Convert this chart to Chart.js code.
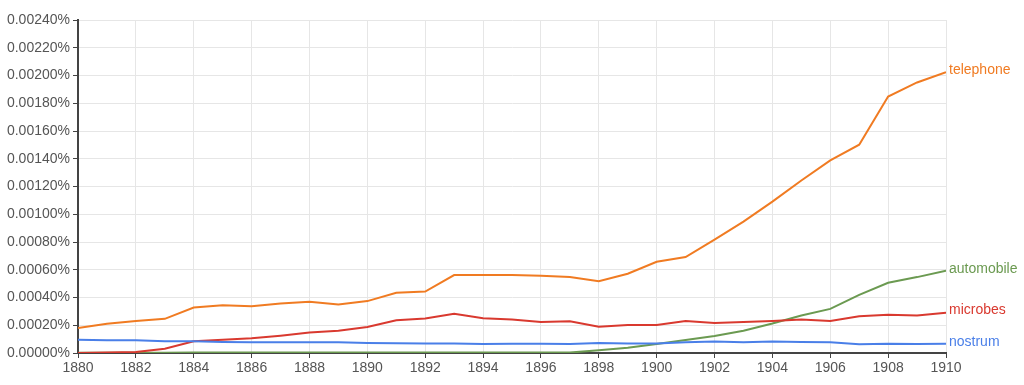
<!DOCTYPE html>
<html>
<head>
<meta charset="utf-8">
<script src="https://cdn.jsdelivr.net/npm/chart.js@4"></script>
<style>
  html, body { margin: 0; padding: 0; background: #fff; }
  #wrap { width: 1024px; height: 385px; }
</style>
</head>
<body>
<div id="wrap"><canvas id="ngram"></canvas></div>
<script>
// years 1880..1910
const years = [1880, 1881, 1882, 1883, 1884, 1885, 1886, 1887, 1888, 1889, 1890,
  1891, 1892, 1893, 1894, 1895, 1896, 1897, 1898, 1899, 1900,
  1901, 1902, 1903, 1904, 1905, 1906, 1907, 1908, 1909, 1910];

// values in percent
const telephone = [0.000180, 0.000210, 0.000231, 0.000246, 0.000328, 0.000345, 0.000337, 0.000357, 0.000369, 0.000349, 0.000374,
  0.000434, 0.000443, 0.000562, 0.000562, 0.000562, 0.000557, 0.000547, 0.000518, 0.000571, 0.000658,
  0.000692, 0.000817, 0.000947, 0.001091, 0.001243, 0.001388, 0.001501, 0.001848, 0.001950, 0.002024];
const automobile = [0.000002, 0.000002, 0.000002, 0.000002, 0.000003, 0.000003, 0.000003, 0.000003, 0.000003, 0.000003, 0.000003,
  0.000004, 0.000004, 0.000004, 0.000004, 0.000004, 0.000003, 0.000003, 0.000019, 0.000038, 0.000065,
  0.000094, 0.000123, 0.000161, 0.000212, 0.000270, 0.000318, 0.000419, 0.000506, 0.000547, 0.000593];
const microbes = [0.000000, 0.000004, 0.000007, 0.000031, 0.000084, 0.000096, 0.000106, 0.000125, 0.000147, 0.000161, 0.000188,
  0.000236, 0.000248, 0.000282, 0.000251, 0.000241, 0.000224, 0.000229, 0.000190, 0.000202, 0.000202,
  0.000231, 0.000217, 0.000224, 0.000231, 0.000241, 0.000231, 0.000265, 0.000275, 0.000270, 0.000291];
const nostrum = [0.000096, 0.000092, 0.000092, 0.000084, 0.000084, 0.000080, 0.000077, 0.000077, 0.000077, 0.000077, 0.000072,
  0.000070, 0.000069, 0.000068, 0.000065, 0.000066, 0.000066, 0.000065, 0.000072, 0.000069, 0.000069,
  0.000077, 0.000082, 0.000077, 0.000082, 0.000080, 0.000077, 0.000063, 0.000067, 0.000065, 0.000067];

const names = ['telephone', 'automobile', 'microbes', 'nostrum'];
const colors = ['#f07b22', '#6b9a51', '#d9392f', '#4a7fe8'];
const series = [telephone, automobile, microbes, nostrum];

const datasets = series.map((vals, i) => ({
  label: names[i],
  data: years.map((y, j) => ({ x: y, y: vals[j] })),
  borderColor: colors[i],
  borderWidth: 2,
  pointRadius: 0,
  tension: 0,
  fill: false
}));
// draw order: nostrum bottom, telephone top like reference
datasets.reverse();

// names next to the last point of each line
const endLabels = {
  id: 'endLabels',
  afterDatasetsDraw(chart) {
    const ctx = chart.ctx;
    ctx.save();
    ctx.font = '14px "Liberation Sans", Arial, sans-serif';
    ctx.textBaseline = 'middle';
    chart.data.datasets.forEach((ds, i) => {
      const meta = chart.getDatasetMeta(i);
      const last = meta.data[meta.data.length - 1];
      ctx.fillStyle = ds.borderColor;
      ctx.fillText(ds.label, last.x + 3, last.y - 2);
    });
    ctx.restore();
  }
};

new Chart(document.getElementById('ngram'), {
  type: 'line',
  data: { datasets: datasets },
  plugins: [endLabels],
  options: {
    responsive: true,
    maintainAspectRatio: false,
    animation: false,
    layout: { padding: { top: 20, right: 78, left: 0, bottom: 0 } },
    plugins: { legend: { display: false }, tooltip: { enabled: false } },
    scales: {
      x: {
        type: 'linear',
        min: 1880,
        max: 1910,
        afterFit: (s) => { s.height = 32; },
        ticks: {
          stepSize: 2,
          color: '#555',
          padding: 2,
          font: { family: '"Liberation Sans", Arial, sans-serif', size: 14 },
          callback: (v) => String(v),
          maxRotation: 0
        },
        grid: { color: '#e6e6e6', tickColor: '#444', tickLength: 5 },
        border: { color: '#444', width: 2 }
      },
      y: {
        min: 0,
        max: 0.0024,
        afterFit: (s) => { s.width = 78; },
        ticks: {
          stepSize: 0.0002,
          color: '#555',
          padding: 3,
          font: { family: '"Liberation Sans", Arial, sans-serif', size: 14 },
          callback: (v) => v.toFixed(5) + '%'
        },
        grid: { color: '#e6e6e6', tickColor: '#444', tickLength: 5 },
        border: { color: '#444', width: 2 }
      }
    }
  }
});
</script>
</body>
</html>
